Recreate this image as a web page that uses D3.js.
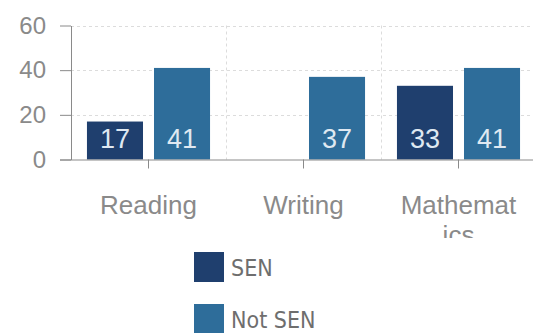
<!DOCTYPE html>
<html>
<head>
<meta charset="utf-8">
<script src="https://cdn.jsdelivr.net/npm/d3@7"></script>
<style>
  html, body { margin: 0; padding: 0; background: #fff; }
  svg { display: block; }
</style>
</head>
<body>
<svg id="chart" width="533" height="333"></svg>
<script>
// Attainment by subject, SEN vs not SEN
const categories = ["Reading", "Writing", "Mathematics"];
const seriesNames = ["SEN", "Not SEN"];
const senValues = [17, null, 33];
const notSenValues = [41, 37, 41];
const yTicks = [0, 20, 40, 60];
const colors = ["#1f3f6e", "#2e6d9a"];

const rows = categories.map((c, i) => ({
  category: c,
  values: [
    { key: seriesNames[0], value: senValues[i] },
    { key: seriesNames[1], value: notSenValues[i] }
  ]
}));

const svg = d3.select("#chart");
const plotLeft = 71, plotRight = 536, plotTop = 25.5, plotBottom = 159.5;

const x0 = d3.scaleBand().domain(categories).range([plotLeft, plotRight]).padding(0);
const x1 = d3.scaleBand().domain(seriesNames).range([0, x0.bandwidth()])
  .paddingInner(0.164).paddingOuter(0.238);
const y = d3.scaleLinear().domain([0, 60]).range([plotBottom, plotTop]);
const color = d3.scaleOrdinal().domain(seriesNames).range(colors);

// grid
const grid = svg.append("g").attr("stroke", "#dcdcdc").attr("stroke-dasharray", "3,3").attr("stroke-width", 1);
grid.selectAll("line.h").data(yTicks.filter(d => d > 0)).join("line").attr("class", "h")
  .attr("x1", plotLeft).attr("x2", plotRight)
  .attr("y1", d => Math.round(y(d)) + 0.5).attr("y2", d => Math.round(y(d)) + 0.5);
grid.selectAll("line.v").data(categories.slice(1)).join("line").attr("class", "v")
  .attr("x1", d => Math.round(x0(d)) + 0.5).attr("x2", d => Math.round(x0(d)) + 0.5)
  .attr("y1", plotTop).attr("y2", plotBottom);

// bars
const groups = svg.append("g").selectAll("g").data(rows).join("g")
  .attr("transform", d => `translate(${x0(d.category)},0)`);
const bars = groups.selectAll("g").data(d => d.values.filter(v => v.value != null)).join("g");
bars.append("rect")
  .attr("x", d => x1(d.key))
  .attr("width", x1.bandwidth())
  .attr("y", d => y(d.value))
  .attr("height", d => y(0) - y(d.value))
  .attr("fill", d => color(d.key));
bars.append("text")
  .attr("x", d => x1(d.key) + x1.bandwidth() / 2)
  .attr("y", y(0) - 12)
  .attr("text-anchor", "middle")
  .attr("font-family", "Liberation Sans, Arial, sans-serif")
  .attr("font-size", 27)
  .attr("fill", "#dfe8f1")
  .text(d => d.value);

// y axis
const yAxis = svg.append("g").attr("transform", `translate(${plotLeft},0)`)
  .call(d3.axisLeft(y).tickValues(yTicks).tickSize(11).tickPadding(14).tickSizeOuter(0));
yAxis.select(".domain").attr("stroke", "#8a8a8a");
yAxis.selectAll(".tick line").attr("stroke", "#8a8a8a");
yAxis.selectAll("text").attr("font-family", "Liberation Sans, Arial, sans-serif")
  .attr("font-size", 24).attr("fill", "#8a8a8a");

// x axis, labels clipped below the second line
svg.append("clipPath").attr("id", "xlabels")
  .append("rect").attr("x", 0).attr("y", -10).attr("width", 533).attr("height", 238 - plotBottom + 10);
const xAxis = svg.append("g").attr("transform", `translate(0,${plotBottom})`)
  .attr("clip-path", "url(#xlabels)")
  .call(d3.axisBottom(x0).tickSize(9).tickPadding(27).tickSizeOuter(0));
xAxis.select(".domain").attr("stroke", "#8a8a8a").attr("d", `M${plotLeft - 11},0.5H533`);
xAxis.selectAll(".tick line").attr("stroke", "#8a8a8a");
xAxis.selectAll("text").attr("font-family", "Liberation Sans, Arial, sans-serif")
  .attr("font-size", 26).attr("fill", "#8a8a8a")
  .each(function () { wrapChars(d3.select(this), 118, 30); });

// break a label by characters when it is wider than the available width
function wrapChars(text, maxWidth, lineHeight) {
  const str = text.text();
  const xPos = text.attr("x") || 0;
  const yPos = +text.attr("y");
  const dy = text.attr("dy");
  text.text(null);
  let lineNo = 0;
  let line = "";
  let tspan = text.append("tspan").attr("x", xPos).attr("y", yPos).attr("dy", dy);
  for (const ch of str) {
    tspan.text(line + ch);
    if (tspan.node().getComputedTextLength() > maxWidth && line.length) {
      tspan.text(line);
      line = ch;
      lineNo++;
      tspan = text.append("tspan").attr("x", xPos)
        .attr("y", yPos + lineNo * lineHeight).attr("dy", dy).text(ch);
    } else {
      line += ch;
    }
  }
}

// legend
const legend = svg.append("g").selectAll("g").data(seriesNames).join("g")
  .attr("transform", (d, i) => `translate(194,${252 + i * 52})`);
legend.append("rect").attr("width", 30).attr("height", 30).attr("fill", d => color(d));
legend.append("text").attr("x", 37).attr("y", 24)
  .attr("font-family", "Liberation Sans Narrow, DejaVu Sans Condensed, Arial Narrow, sans-serif")
  .attr("font-size", 23).attr("fill", "#6e6e6e")
  .text(d => d);
</script>
</body>
</html>
